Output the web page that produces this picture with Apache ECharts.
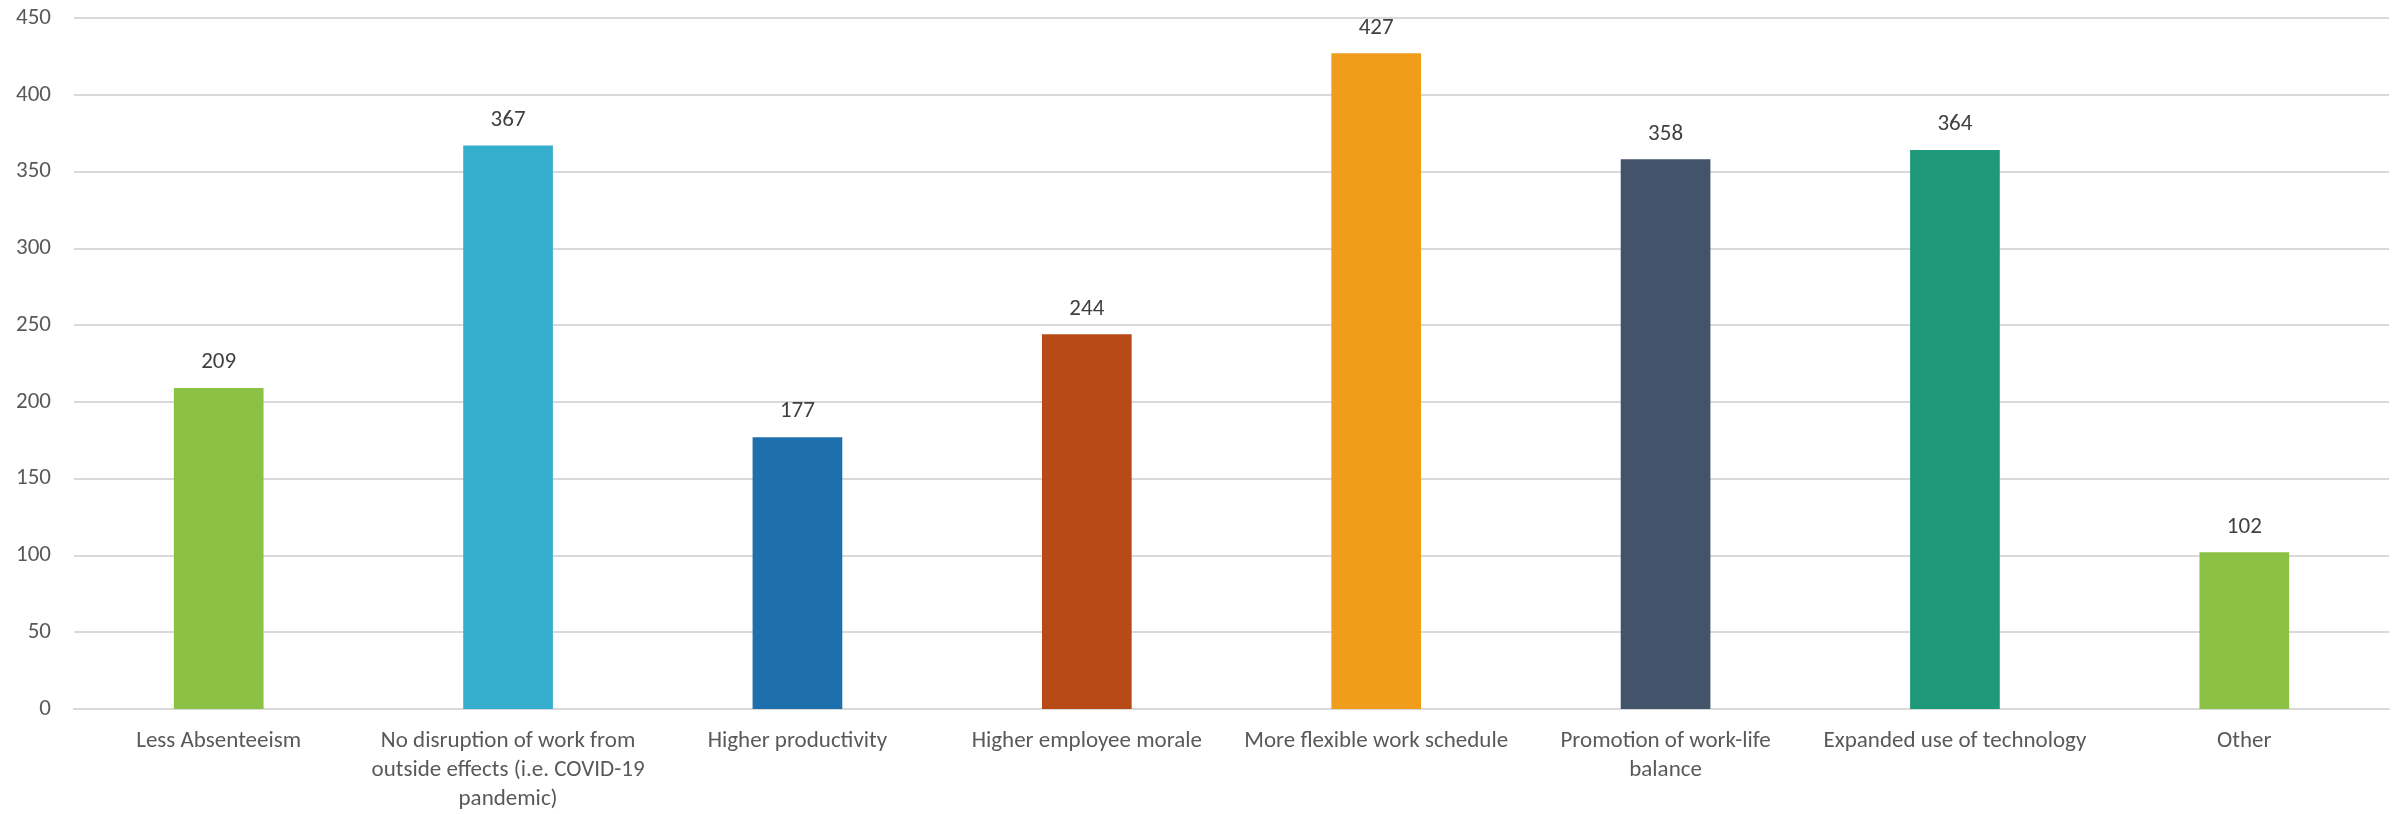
<!DOCTYPE html>
<html>
<head>
<meta charset="utf-8">
<script src="https://cdn.jsdelivr.net/npm/echarts@6/dist/echarts.min.js"></script>
<style>
html,body{margin:0;padding:0;background:#fff;overflow:hidden;}
#chart{width:2407px;height:814px;}
</style>
</head>
<body>
<div id="chart"></div>
<script>
const categories = [
  "Less Absenteeism",
  "No disruption of work from\noutside effects (i.e. COVID-19\npandemic)",
  "Higher productivity",
  "Higher employee morale",
  "More flexible work schedule",
  "Promotion of work-life\nbalance",
  "Expanded use of technology",
  "Other"
];
const values = [209, 367, 177, 244, 427, 358, 364, 102];
const barColors = ["#8BC145", "#36AFCF", "#1D70AB", "#B84A18", "#F09D1C", "#43536A", "#1E9A7A", "#8BC145"];
const yTicks = { min: 0, max: 450, interval: 50 };

const fontFam = "Carlito, Lato, 'Liberation Sans', sans-serif";
const chart = echarts.init(document.getElementById('chart'));
chart.setOption({
  animation: false,
  grid: { left: 74, right: 18, top: 18, bottom: 98, containLabel: false },
  xAxis: {
    type: 'category',
    data: categories,
    axisTick: { show: false },
    axisLine: { lineStyle: { color: '#d9d9d9', width: 2 } },
    axisLabel: { color: '#595959', fontSize: 23, fontFamily: fontFam, margin: 18, lineHeight: 29, interval: 0, align: 'center' }
  },
  yAxis: {
    type: 'value',
    min: yTicks.min, max: yTicks.max, interval: yTicks.interval,
    axisLine: { show: false },
    axisTick: { show: false },
    splitLine: { lineStyle: { color: '#d9d9d9', width: 2 } },
    axisLabel: { color: '#595959', fontSize: 23, fontFamily: fontFam, margin: 23 }
  },
  series: [{
    type: 'bar',
    data: values.map((v, i) => ({ value: v, itemStyle: { color: barColors[i] } })),
    barWidth: '31%',
    label: { show: true, position: 'top', distance: 14, color: '#404040', fontSize: 23, fontFamily: fontFam }
  }]
});
</script>
</body>
</html>
